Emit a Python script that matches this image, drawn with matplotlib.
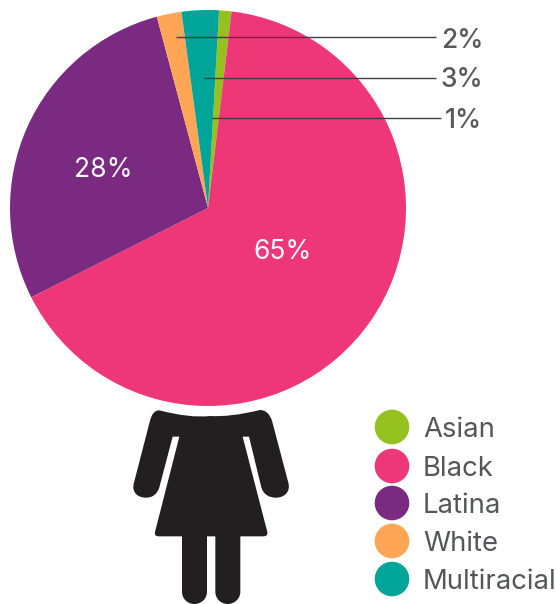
import matplotlib
matplotlib.use("Agg")
import matplotlib.pyplot as plt
from matplotlib.patches import Circle, PathPatch
from matplotlib.path import Path

categories = ["Asian", "Black", "Latina", "White", "Multiracial"]
values = [1, 65, 28, 2, 3]
colors = ["#95C11F", "#EE3776", "#7B2A82", "#FFA555", "#00A499"]

W, H = 556, 604
plt.rcParams["font.family"] = ["Inter", "DejaVu Sans"]
fig = plt.figure(figsize=(W / 100, H / 100), dpi=100)
ax = fig.add_axes([0, 0, 1, 1])
Y = lambda y: H - y

ax.pie(values, colors=colors, center=(208, Y(208)), radius=198, startangle=86.8,
       counterclock=False, frame=True, wedgeprops={"linewidth": 0})
ax.set_xlim(0, W)
ax.set_ylim(0, H)
ax.set_aspect("equal")
ax.axis("off")

# Value labels inside the pie
ax.text(103, Y(177), f"{values[2]}%", color="white", fontsize=19, ha="center", va="baseline")
ax.text(283, Y(259), f"{values[1]}%", color="white", fontsize=19, ha="center", va="baseline")

# Leader lines and outside labels
leader = [(values[3], 176, 436, 37, 462, 48),
          (values[4], 204, 436, 78, 462, 87),
          (values[0], 212, 441, 118, 463, 128)]
for v, x0, x1, y, tx, ty in leader:
    ax.plot([x0, x1], [Y(y), Y(y)], color="#3f3f41", lw=1.0, solid_capstyle="butt")
    ax.text(tx, Y(ty), f"{v}%", color="#58595B", fontsize=19, fontweight="medium",
            ha="center", va="baseline")

# Legend
legend_y = [427, 466, 503, 541, 579]
for name, col, y in zip(categories, colors, legend_y):
    ax.add_patch(Circle((392, Y(y)), 17.3, color=col, lw=0))
    ax.text(423, Y(y + 10), name, color="#55565A", fontsize=19.8,
            ha="left", va="baseline")

# Person icon, traced in zoom-crop units
def P(zx, zy):
    return (120 + zx / 3, Y(400 + zy / 3))

M, L = Path.MOVETO, Path.LINETO
Q, C = Path.CURVE3, Path.CURVE4
pts = [
    (118, 31, M),
    (210, 55, Q), (270, 48, Q),
    (330, 52, Q), (420, 30, Q),
    (445, 30, Q), (456, 62, Q),
    (505, 248, L),
    (512, 274, C), (495, 293, C), (468, 293, C),
    (446, 293, C), (430, 282, C), (424, 262, C),
    (387, 110, L), (368, 110, L),
    (442, 396, L),
    (444, 409, Q), (430, 409, Q),
    (361, 409, L), (361, 575, L),
    (361, 596, C), (344, 612, C), (323, 612, C),
    (302, 612, C), (286, 596, C), (286, 575, C),
    (286, 409, L), (261, 409, L), (261, 575, L),
    (261, 596, C), (244, 612, C), (223, 612, C),
    (202, 612, C), (186, 596, C), (186, 575, C),
    (186, 409, L), (116, 409, L),
    (102, 409, Q), (105, 396, Q),
    (178, 110, L), (158, 110, L),
    (118, 262, L),
    (112, 282, C), (98, 293, C), (78, 293, C),
    (50, 293, C), (34, 274, C), (42, 248, C),
    (90, 62, L),
    (98, 30, Q), (118, 31, Q),
]
verts = [P(x, y) for x, y, _ in pts]
codes = [c for _, _, c in pts]
ax.add_patch(PathPatch(Path(verts, codes), facecolor="#231F20", lw=0))

fig.savefig("out.png", dpi=100)
